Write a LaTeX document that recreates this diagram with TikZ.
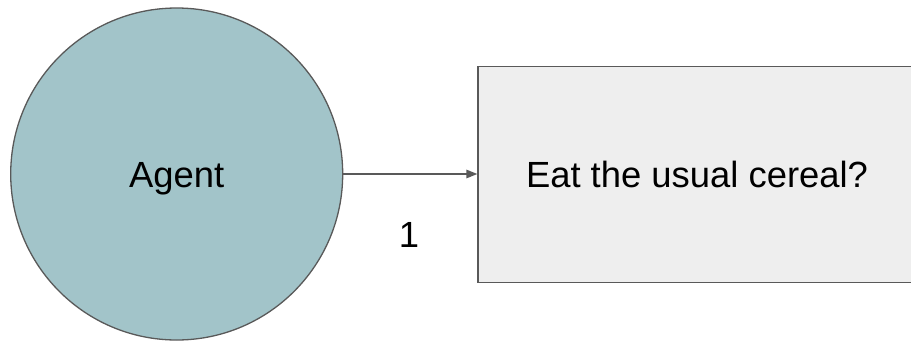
\documentclass[tikz,border=0pt]{standalone}
\usepackage{fontspec}
\setmainfont{Liberation Sans}
\usetikzlibrary{arrows.meta}
\definecolor{agentfill}{HTML}{A2C4C9}
\definecolor{boxfill}{HTML}{EEEEEE}
\definecolor{edgegray}{HTML}{595959}
\tikzset{
  bigtext/.style={font=\fontsize{36.4}{42}\selectfont, text height=26pt, text depth=0pt, inner sep=0pt},
  agentnode/.style={circle, draw=edgegray, fill=agentfill, line width=1.3pt, minimum size=332pt, bigtext},
  statebox/.style={rectangle, draw=edgegray, fill=boxfill, line width=1.3pt, minimum width=438pt, minimum height=216pt, bigtext},
  link/.style={draw=edgegray, line width=1.3pt, -{Triangle[length=11pt,width=8.5pt]}}
}
\begin{document}
\begin{tikzpicture}[x=1pt,y=-1pt]
  \useasboundingbox (0,0) rectangle (911,341);
  \clip (0,0) rectangle (911,341);
  \fill[white] (0,0) rectangle (911,341);
  \node[agentnode] (agent) at (176.7,174) {Agent};
  \node[statebox] (box) at (697,174.5) {Eat the usual cereal?};
  \draw[link] (agent.east) -- (box.west |- agent.east);
  \node[bigtext] (num) at (409,234.5) {1};
\end{tikzpicture}
\end{document}
